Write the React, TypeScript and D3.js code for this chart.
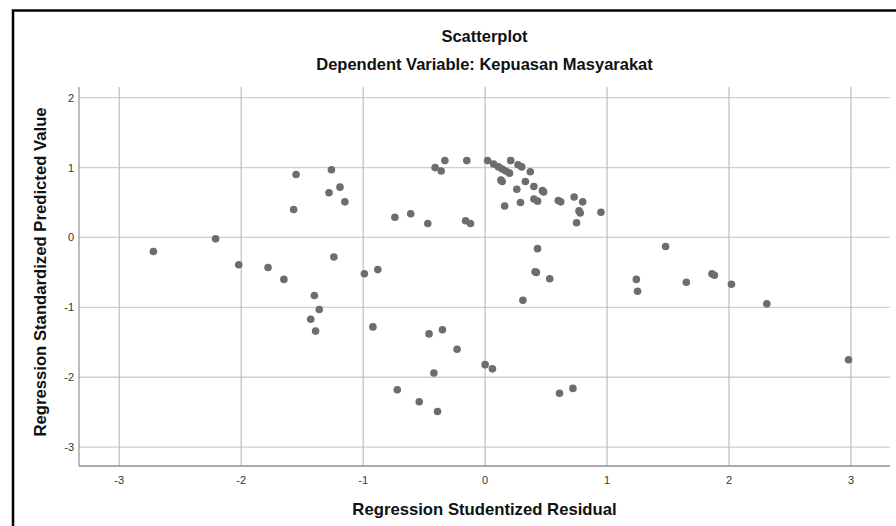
import React from "react";
import * as d3 from "d3";

const residuals: number[] = [
  -2.72, -2.21, -2.02, -1.78, -1.65, -1.55, -1.57, -1.26, -1.19, -1.28, -1.15, -1.24, -0.99, -1.40, -1.36, -1.43, -1.39,
  -0.41, -0.36, -0.33, -0.15, -0.74, -0.61, -0.47, -0.16, -0.12, -0.88, -0.92, -0.46, -0.35, -0.23, 0.0, 0.06, -0.42,
  -0.72, -0.54, -0.39,
  0.02, 0.07, 0.11, 0.14, 0.17, 0.2, 0.21, 0.27, 0.3, 0.37, 0.13, 0.14, 0.33, 0.4, 0.26, 0.47, 0.48, 0.4, 0.43, 0.16,
  0.29, 0.6, 0.62, 0.73, 0.8, 0.77, 0.78, 0.95, 0.75, 0.43, 0.41, 0.42, 0.53, 0.31, 0.61, 0.72,
  1.48, 1.24, 1.25, 1.65, 1.86, 1.88, 2.02, 2.31, 2.98,
];
const predicted: number[] = [
  -0.2, -0.02, -0.39, -0.43, -0.6, 0.9, 0.4, 0.97, 0.72, 0.64, 0.51, -0.28, -0.52, -0.83, -1.03, -1.17, -1.34,
  1.0, 0.95, 1.1, 1.1, 0.29, 0.34, 0.2, 0.24, 0.2, -0.46, -1.28, -1.38, -1.32, -1.6, -1.82, -1.88, -1.94,
  -2.18, -2.35, -2.49,
  1.1, 1.05, 1.01, 0.98, 0.95, 0.92, 1.1, 1.04, 1.01, 0.94, 0.82, 0.8, 0.8, 0.73, 0.69, 0.67, 0.65, 0.55, 0.52, 0.45,
  0.5, 0.53, 0.51, 0.58, 0.51, 0.38, 0.35, 0.36, 0.21, -0.16, -0.49, -0.5, -0.59, -0.9, -2.23, -2.16,
  -0.13, -0.6, -0.77, -0.64, -0.52, -0.54, -0.67, -0.95, -1.75,
];
const xTicks: number[] = [-3, -2, -1, 0, 1, 2, 3];
const yTicks: number[] = [-3, -2, -1, 0, 1, 2];

const title = "Scatterplot";
const subtitle = "Dependent Variable: Kepuasan Masyarakat";
const xTitle = "Regression Studentized Residual";
const yTitle = "Regression Standardized Predicted Value";

const W = 896;
const H = 526;
const left = 79;
const right = 890;
const top = 87;
const bottom = 466;

export default function App() {
  const x = d3.scaleLinear().domain([-3.33, 3.32]).range([left, right]);
  const y = d3.scaleLinear().domain([-3.27, 2.153]).range([bottom, top]);
  const font = "'Liberation Sans', Arial, sans-serif";
  const points = residuals.map((r, i) => ({ r, p: predicted[i] }));
  return (
    <svg
      width={W}
      height={H}
      style={{ position: "fixed", left: 0, top: 0, background: "#fff" }}
      fontFamily={font}
    >
      <rect x={0} y={0} width={W} height={H} fill="#fff" />
      <rect x={13} y={10.5} width={W + 20} height={H + 20} fill="none" stroke="#000" strokeWidth={2.5} />
      <text x={(left + right) / 2} y={42} textAnchor="middle" fontSize={16.5} fontWeight="bold" fill="#111">
        {title}
      </text>
      <text x={(left + right) / 2} y={70} textAnchor="middle" fontSize={16.5} fontWeight="bold" fill="#111">
        {subtitle}
      </text>
      {yTicks.map((t) => (
        <line key={"h" + t} x1={left} x2={right} y1={y(t)} y2={y(t)} stroke="#cfcfcf" strokeWidth={1.3} />
      ))}
      {xTicks.map((t) => (
        <line key={"v" + t} x1={x(t)} x2={x(t)} y1={top} y2={bottom} stroke="#b8b8b8" strokeWidth={1.1} />
      ))}
      <line x1={left} x2={left} y1={top} y2={bottom} stroke="#9a9a9a" strokeWidth={1.3} />
      <line x1={left} x2={right} y1={bottom} y2={bottom} stroke="#8e8e8e" strokeWidth={1.6} />
      {yTicks.map((t) => (
        <text key={"yl" + t} x={left - 5} y={y(t) + 4} textAnchor="end" fontSize={11} fill="#333">
          {t}
        </text>
      ))}
      {xTicks.map((t) => (
        <text key={"xl" + t} x={x(t)} y={bottom + 18} textAnchor="middle" fontSize={11} fill="#333">
          {t}
        </text>
      ))}
      <text x={(left + right) / 2} y={515} textAnchor="middle" fontSize={16.7} fontWeight="bold" fill="#111">
        {xTitle}
      </text>
      <text
        transform={`translate(46,272) rotate(-90)`}
        textAnchor="middle"
        fontSize={16.7}
        fontWeight="bold"
        fill="#111"
      >
        {yTitle}
      </text>
      {points.map((d, i) => (
        <circle key={i} cx={x(d.r)} cy={y(d.p)} r={3.8} fill="#6d6d6d" />
      ))}
    </svg>
  );
}
